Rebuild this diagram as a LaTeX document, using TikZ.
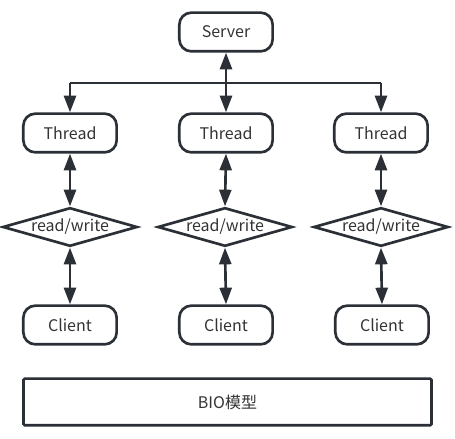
\documentclass[tikz,border=0pt]{standalone}
\usepackage{fontspec}
\setmainfont{Noto Sans CJK SC}
\usepackage{xcolor}
\usetikzlibrary{arrows.meta,shapes.geometric}
\definecolor{linegray}{HTML}{2B3036}
\definecolor{textgray}{HTML}{333333}
\tikzset{
	roundbox/.style={
			draw=linegray, line width=2pt, rounded corners=9pt,
			minimum width=70pt, minimum height=29pt, inner sep=0pt,
			text=textgray, font=\fontsize{12pt}{14pt}\selectfont
		},
	rwbox/.style={
			draw=linegray, line width=2pt, diamond, aspect=3.4,
			minimum width=101pt, minimum height=29pt, inner sep=0pt,
			text=textgray, font=\fontsize{12pt}{14pt}\selectfont
		},
	link/.style={
			draw=linegray, line width=2pt,
			arrows={-Triangle[length=12.5pt, width=9pt]}
		},
	biglink/.style={link, arrows={Triangle[length=12.5pt, width=9pt]-Triangle[length=12.5pt, width=9pt]}}
}

\begin{document}
\begin{tikzpicture}[x=0.75pt, y=-0.75pt]
		\useasboundingbox (0,0) rectangle (455,439);

		% Draw the server
		\node[roundbox] (server) at (226,32) {Server};

		% Draw the threads
		\node[roundbox] (thread1) at (70,133) {Thread};
		\node[roundbox] (thread2) at (226,133) {Thread};
		\node[roundbox] (thread3) at (381,133) {Thread};

		% Draw the read/write steps
		\node[rwbox] (rw1) at (70,227) {read/write};
		\node[rwbox] (rw2) at (225,227) {read/write};
		\node[rwbox] (rw3) at (381,227) {read/write};

		% Draw the clients
		\node[roundbox] (client1) at (70,325) {Client};
		\node[roundbox] (client2) at (226,325) {Client};
		\node[roundbox] (client3) at (382,325) {Client};

		% Draw the caption box
		\node[draw=linegray, line width=2pt, rounded corners=1pt,
			minimum width=306pt, minimum height=35pt, inner sep=0pt,
			text=textgray, font=\fontsize{12pt}{14pt}\selectfont] (model) at (227.5,402) {BIO模型};

		% Draw the branch from the server
		\coordinate (split1) at (70,83);
		\coordinate (split3) at (381,83);
		\draw[linegray, line width=2pt] (split1) -- (split3);
		\draw[link] (split1) -- (thread1.north);
		\draw[link] (split3) -- (thread3.north);
		\draw[biglink] (server.south) -- (thread2.north);

		% Draw the links to the clients
		\foreach \i in {1,2,3} {
				\draw[biglink] (thread\i.south) -- (rw\i.north);
				\draw[biglink] (rw\i.south) -- (client\i.north);
			}
	\end{tikzpicture}
\end{document}
